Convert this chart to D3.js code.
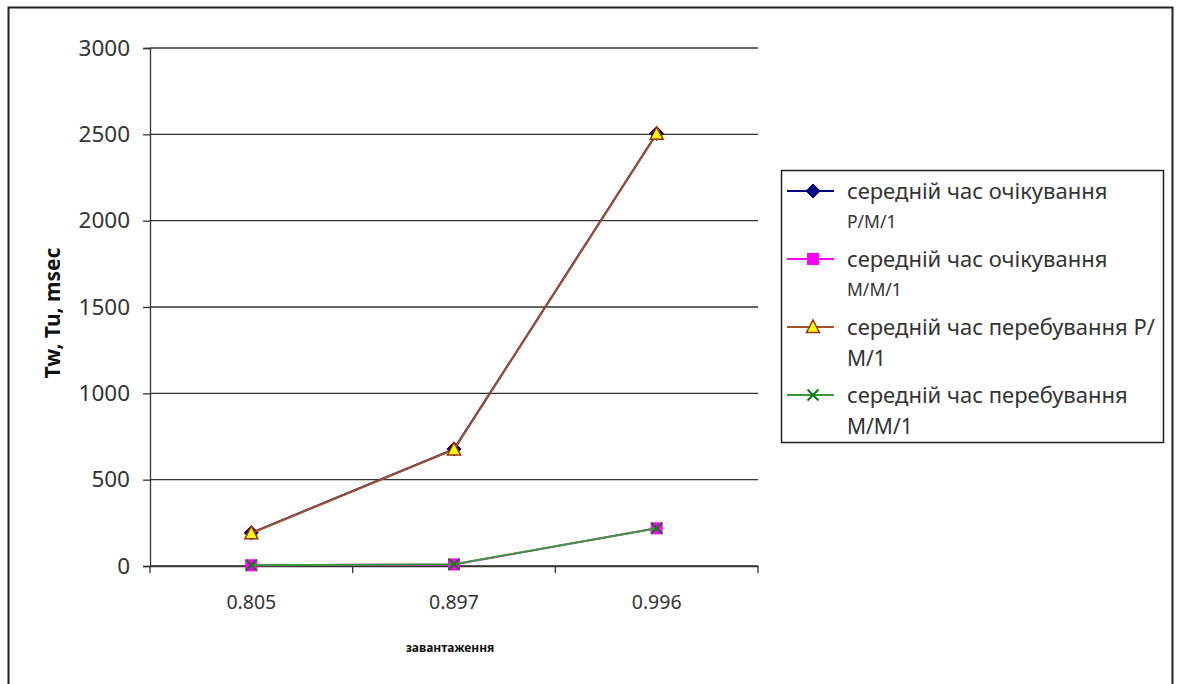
<!DOCTYPE html>
<html>
<head>
<meta charset="utf-8">
<script src="https://cdn.jsdelivr.net/npm/d3@7"></script>
<style>
  html, body { margin: 0; padding: 0; background: #fff; }
  svg { display: block; font-family: "Noto Sans", "Open Sans", sans-serif; }
</style>
</head>
<body>
<svg id="chart" width="1179" height="684"></svg>
<script>
// Load factor categories
const categories = ["0.805", "0.897", "0.996"];

// Mean times, msec
const waitPM1 = [192, 677, 2505];
const waitMM1 = [4, 9, 218];
const stayPM1 = [190, 675, 2503];
const stayMM1 = [5, 10, 219];

const yTicks = [0, 500, 1000, 1500, 2000, 2500, 3000];

const seriesNames = [
  ["середній час очікування", "Р/М/1"],
  ["середній час очікування", "М/М/1"],
  ["середній час перебування Р/", "М/1"],
  ["середній час перебування", "М/М/1"]
];

const series = [
  { name: seriesNames[0], values: waitPM1, line: "#000080", marker: "diamond", fill: "#000080", stroke: "#000080", small: true },
  { name: seriesNames[1], values: waitMM1, line: "#ff00ff", marker: "square", fill: "#ff00ff", stroke: "#ff00ff", small: true },
  { name: seriesNames[2], values: stayPM1, line: "#a0522d", marker: "triangle", fill: "#ffff00", stroke: "#993300", small: false },
  { name: seriesNames[3], values: stayMM1, line: "#3a9a3a", marker: "cross", fill: "none", stroke: "#117711", small: false }
];

const svg = d3.select("#chart");

// outer frame
svg.append("rect")
  .attr("x", 8.5).attr("y", 7.5)
  .attr("width", 1164).attr("height", 700)
  .attr("fill", "none").attr("stroke", "#222").attr("stroke-width", 2);

const plot = { left: 150, right: 758, top: 48, bottom: 566 };

const x = d3.scaleBand().domain(categories).range([plot.left, plot.right]);
const y = d3.scaleLinear().domain([0, 3000]).range([plot.bottom, plot.top]);

// horizontal gridlines
svg.append("g").selectAll("line").data(yTicks).join("line")
  .attr("x1", plot.left).attr("x2", plot.right)
  .attr("y1", d => y(d)).attr("y2", d => y(d))
  .attr("stroke", "#333").attr("stroke-width", 1.3);

// y axis
const yAxis = svg.append("g")
  .attr("transform", `translate(${plot.left},0)`)
  .call(d3.axisLeft(y).tickValues(yTicks).tickSize(7).tickPadding(13).tickFormat(d3.format("d")));
yAxis.select(".domain").attr("stroke", "#333").attr("stroke-width", 1.3);
yAxis.selectAll(".tick line").attr("stroke", "#333").attr("stroke-width", 1.3);
yAxis.selectAll(".tick text").attr("fill", "#333").style("font-size", "22.5px")
  .style("font-family", "'Noto Sans', sans-serif");

// x axis, ticks at category boundaries
const xAxis = svg.append("g")
  .attr("transform", `translate(0,${plot.bottom})`)
  .call(d3.axisBottom(x).tickSize(0).tickPadding(29));
xAxis.select(".domain").attr("stroke", "#333").attr("stroke-width", 1.3);
xAxis.selectAll(".tick text").attr("fill", "#333").style("font-size", "19.5px")
  .style("font-family", "'Noto Sans', sans-serif");
const bounds = categories.map(c => x(c)).concat([x.range()[1]]);
xAxis.append("g").selectAll("line").data(bounds).join("line")
  .attr("x1", d => d).attr("x2", d => d)
  .attr("y1", 0).attr("y2", 7)
  .attr("stroke", "#333").attr("stroke-width", 1.3);

// axis titles
svg.append("text")
  .attr("transform", "translate(60,313) rotate(-90)")
  .attr("text-anchor", "middle")
  .attr("font-weight", "bold").attr("font-size", "21px").attr("fill", "#111")
  .text("Tw, Tu, msec");

svg.append("text")
  .attr("x", 450).attr("y", 652)
  .attr("text-anchor", "middle")
  .attr("font-weight", "bold").attr("font-size", "12px").attr("fill", "#111")
  .text("завантаження");

const cx = c => x(c) + x.bandwidth() / 2;

function drawMarker(g, type, fill, stroke) {
  if (type === "diamond") {
    g.append("path").attr("d", "M0,-7L7,0L0,7L-7,0Z").attr("fill", fill).attr("stroke", stroke);
  } else if (type === "square") {
    g.append("rect").attr("x", -5.5).attr("y", -5.5).attr("width", 11).attr("height", 11)
      .attr("fill", fill).attr("stroke", stroke);
  } else if (type === "triangle") {
    g.append("path").attr("d", "M0,-7L6.5,5.5L-6.5,5.5Z").attr("fill", fill)
      .attr("stroke", stroke).attr("stroke-width", 1.5);
  } else if (type === "cross") {
    g.append("path").attr("d", "M-5.5,-5.5L5.5,5.5M-5.5,5.5L5.5,-5.5").attr("fill", "none")
      .attr("stroke", stroke).attr("stroke-width", 2);
  }
}

const line = d3.line().x((d, i) => cx(categories[i])).y(d => y(d));

series.forEach(s => {
  svg.append("path")
    .datum(s.values)
    .attr("d", line)
    .attr("fill", "none")
    .attr("stroke", s.line)
    .attr("stroke-width", 2);
  s.values.forEach((v, i) => {
    const g = svg.append("g").attr("transform", `translate(${cx(categories[i])},${y(v)})`);
    drawMarker(g, s.marker, s.fill, s.stroke);
  });
});

// legend
const legend = svg.append("g");
legend.append("rect")
  .attr("x", 781.5).attr("y", 170.5).attr("width", 382).attr("height", 272)
  .attr("fill", "#fff").attr("stroke", "#222").attr("stroke-width", 1.5);

const rowY = [191, 259, 327, 395];
series.forEach((s, i) => {
  const ry = rowY[i];
  legend.append("line")
    .attr("x1", 787).attr("x2", 834).attr("y1", ry).attr("y2", ry)
    .attr("stroke", s.line).attr("stroke-width", 2);
  const g = legend.append("g").attr("transform", `translate(813,${ry})`);
  drawMarker(g, s.marker, s.fill, s.stroke);
  legend.append("text")
    .attr("x", 847).attr("y", ry + 8)
    .attr("font-size", "22px").attr("fill", "#333")
    .text(s.name[0]);
  legend.append("text")
    .attr("x", 847).attr("y", ry + (s.small ? 37 : 39))
    .attr("font-size", s.small ? "17.5px" : "21px").attr("fill", "#333")
    .text(s.name[1]);
});
</script>
</body>
</html>
